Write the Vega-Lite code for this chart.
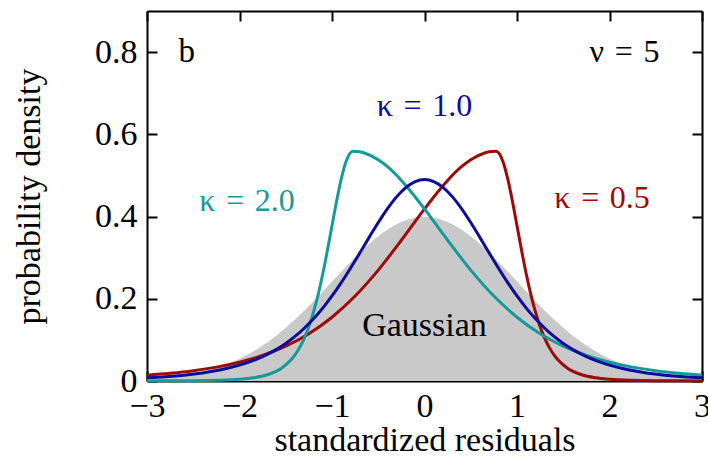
{
  "$schema": "https://vega.github.io/schema/vega-lite/v6.json",
  "width": 555,
  "height": 370,
  "autosize": {"type": "none"},
  "padding": {"left": 147, "top": 11, "right": 6, "bottom": 76},
  "background": "white",
  "config": {
    "view": {"stroke": null},
    "font": "Liberation Serif",
    "axis": {
      "grid": false,
      "domainColor": "black",
      "domainWidth": 2,
      "tickColor": "black",
      "tickWidth": 2,
      "tickSize": -10,
      "labelFont": "Liberation Serif",
      "labelFontSize": 34,
      "labelColor": "black",
      "titleFont": "Liberation Serif",
      "titleFontSize": 34,
      "titleFontWeight": "normal",
      "titleColor": "black"
    }
  },
  "datasets": {
    "gauss": [
      {"x": -3.0, "y": 0.0044}, {"x": -2.8, "y": 0.0079}, {"x": -2.6, "y": 0.0136}, {"x": -2.4, "y": 0.0224},
      {"x": -2.2, "y": 0.0355}, {"x": -2.0, "y": 0.054}, {"x": -1.8, "y": 0.079}, {"x": -1.6, "y": 0.1109},
      {"x": -1.4, "y": 0.1497}, {"x": -1.2, "y": 0.1942}, {"x": -1.0, "y": 0.242}, {"x": -0.8, "y": 0.2897},
      {"x": -0.6, "y": 0.3332}, {"x": -0.4, "y": 0.3683}, {"x": -0.2, "y": 0.391}, {"x": 0.0, "y": 0.3989},
      {"x": 0.2, "y": 0.391}, {"x": 0.4, "y": 0.3683}, {"x": 0.6, "y": 0.3332}, {"x": 0.8, "y": 0.2897},
      {"x": 1.0, "y": 0.242}, {"x": 1.2, "y": 0.1942}, {"x": 1.4, "y": 0.1497}, {"x": 1.6, "y": 0.1109},
      {"x": 1.8, "y": 0.079}, {"x": 2.0, "y": 0.054}, {"x": 2.2, "y": 0.0355}, {"x": 2.4, "y": 0.0224},
      {"x": 2.6, "y": 0.0136}, {"x": 2.8, "y": 0.0079}, {"x": 3.0, "y": 0.0044}
    ],
    "curves": [
      {"k": "0.5", "x": -3.0, "y": 0.01405}, {"k": "0.5", "x": -2.75, "y": 0.01868}, {"k": "0.5", "x": -2.5, "y": 0.02501},
      {"k": "0.5", "x": -2.25, "y": 0.03372}, {"k": "0.5", "x": -2.0, "y": 0.0457}, {"k": "0.5", "x": -1.75, "y": 0.0622},
      {"k": "0.5", "x": -1.5, "y": 0.0846}, {"k": "0.5", "x": -1.25, "y": 0.115}, {"k": "0.5", "x": -1.0, "y": 0.1551},
      {"k": "0.5", "x": -0.75, "y": 0.2066}, {"k": "0.5", "x": -0.5, "y": 0.2698}, {"k": "0.5", "x": -0.25, "y": 0.3424},
      {"k": "0.5", "x": 0.0, "y": 0.4185}, {"k": "0.5", "x": 0.1, "y": 0.4477}, {"k": "0.5", "x": 0.25, "y": 0.4879},
      {"k": "0.5", "x": 0.4, "y": 0.5212}, {"k": "0.5", "x": 0.5, "y": 0.5383}, {"k": "0.5", "x": 0.65, "y": 0.5547},
      {"k": "0.5", "x": 0.7, "y": 0.5575}, {"k": "0.5", "x": 0.773, "y": 0.559}, {"k": "0.5", "x": 0.85, "y": 0.5329},
      {"k": "0.5", "x": 0.9, "y": 0.4916}, {"k": "0.5", "x": 0.95, "y": 0.4377}, {"k": "0.5", "x": 1.0, "y": 0.3776},
      {"k": "0.5", "x": 1.05, "y": 0.3171}, {"k": "0.5", "x": 1.1, "y": 0.2604}, {"k": "0.5", "x": 1.15, "y": 0.2102},
      {"k": "0.5", "x": 1.2, "y": 0.1675}, {"k": "0.5", "x": 1.25, "y": 0.1322}, {"k": "0.5", "x": 1.3, "y": 0.1038},
      {"k": "0.5", "x": 1.35, "y": 0.0812}, {"k": "0.5", "x": 1.4, "y": 0.0634}, {"k": "0.5", "x": 1.45, "y": 0.0496},
      {"k": "0.5", "x": 1.55, "y": 0.0305}, {"k": "0.5", "x": 1.7, "y": 0.01514}, {"k": "0.5", "x": 1.85, "y": 0.00785},
      {"k": "0.5", "x": 2.0, "y": 0.00426}, {"k": "0.5", "x": 2.25, "y": 0.00169}, {"k": "0.5", "x": 2.5, "y": 0.00075},
      {"k": "0.5", "x": 3.0, "y": 0.00019},

      {"k": "2.0", "x": 3.0, "y": 0.01405}, {"k": "2.0", "x": 2.75, "y": 0.01868}, {"k": "2.0", "x": 2.5, "y": 0.02501},
      {"k": "2.0", "x": 2.25, "y": 0.03372}, {"k": "2.0", "x": 2.0, "y": 0.0457}, {"k": "2.0", "x": 1.75, "y": 0.0622},
      {"k": "2.0", "x": 1.5, "y": 0.0846}, {"k": "2.0", "x": 1.25, "y": 0.115}, {"k": "2.0", "x": 1.0, "y": 0.1551},
      {"k": "2.0", "x": 0.75, "y": 0.2066}, {"k": "2.0", "x": 0.5, "y": 0.2698}, {"k": "2.0", "x": 0.25, "y": 0.3424},
      {"k": "2.0", "x": 0.0, "y": 0.4185}, {"k": "2.0", "x": -0.1, "y": 0.4477}, {"k": "2.0", "x": -0.25, "y": 0.4879},
      {"k": "2.0", "x": -0.4, "y": 0.5212}, {"k": "2.0", "x": -0.5, "y": 0.5383}, {"k": "2.0", "x": -0.65, "y": 0.5547},
      {"k": "2.0", "x": -0.7, "y": 0.5575}, {"k": "2.0", "x": -0.773, "y": 0.559}, {"k": "2.0", "x": -0.85, "y": 0.5329},
      {"k": "2.0", "x": -0.9, "y": 0.4916}, {"k": "2.0", "x": -0.95, "y": 0.4377}, {"k": "2.0", "x": -1.0, "y": 0.3776},
      {"k": "2.0", "x": -1.05, "y": 0.3171}, {"k": "2.0", "x": -1.1, "y": 0.2604}, {"k": "2.0", "x": -1.15, "y": 0.2102},
      {"k": "2.0", "x": -1.2, "y": 0.1675}, {"k": "2.0", "x": -1.25, "y": 0.1322}, {"k": "2.0", "x": -1.3, "y": 0.1038},
      {"k": "2.0", "x": -1.35, "y": 0.0812}, {"k": "2.0", "x": -1.4, "y": 0.0634}, {"k": "2.0", "x": -1.45, "y": 0.0496},
      {"k": "2.0", "x": -1.55, "y": 0.0305}, {"k": "2.0", "x": -1.7, "y": 0.01514}, {"k": "2.0", "x": -1.85, "y": 0.00785},
      {"k": "2.0", "x": -2.0, "y": 0.00426}, {"k": "2.0", "x": -2.25, "y": 0.00169}, {"k": "2.0", "x": -2.5, "y": 0.00075},
      {"k": "2.0", "x": -3.0, "y": 0.00019},

      {"k": "1.0", "x": -3.0, "y": 0.00766}, {"k": "1.0", "x": -2.8, "y": 0.01039}, {"k": "1.0", "x": -2.6, "y": 0.01423},
      {"k": "1.0", "x": -2.4, "y": 0.01968}, {"k": "1.0", "x": -2.2, "y": 0.02746}, {"k": "1.0", "x": -2.0, "y": 0.03858},
      {"k": "1.0", "x": -1.9, "y": 0.04582}, {"k": "1.0", "x": -1.8, "y": 0.05446}, {"k": "1.0", "x": -1.7, "y": 0.06476},
      {"k": "1.0", "x": -1.6, "y": 0.07699}, {"k": "1.0", "x": -1.5, "y": 0.09145}, {"k": "1.0", "x": -1.4, "y": 0.1084},
      {"k": "1.0", "x": -1.3, "y": 0.1283}, {"k": "1.0", "x": -1.2, "y": 0.1512}, {"k": "1.0", "x": -1.1, "y": 0.1773},
      {"k": "1.0", "x": -1.0, "y": 0.2068}, {"k": "1.0", "x": -0.9, "y": 0.2393}, {"k": "1.0", "x": -0.8, "y": 0.2744},
      {"k": "1.0", "x": -0.7, "y": 0.3113}, {"k": "1.0", "x": -0.6, "y": 0.3488}, {"k": "1.0", "x": -0.5, "y": 0.3855},
      {"k": "1.0", "x": -0.4, "y": 0.4194}, {"k": "1.0", "x": -0.3, "y": 0.4485}, {"k": "1.0", "x": -0.2, "y": 0.471},
      {"k": "1.0", "x": -0.1, "y": 0.4852}, {"k": "1.0", "x": 0.0, "y": 0.4901}, {"k": "1.0", "x": 0.1, "y": 0.4852},
      {"k": "1.0", "x": 0.2, "y": 0.471}, {"k": "1.0", "x": 0.3, "y": 0.4485}, {"k": "1.0", "x": 0.4, "y": 0.4194},
      {"k": "1.0", "x": 0.5, "y": 0.3855}, {"k": "1.0", "x": 0.6, "y": 0.3488}, {"k": "1.0", "x": 0.7, "y": 0.3113},
      {"k": "1.0", "x": 0.8, "y": 0.2744}, {"k": "1.0", "x": 0.9, "y": 0.2393}, {"k": "1.0", "x": 1.0, "y": 0.2068},
      {"k": "1.0", "x": 1.1, "y": 0.1773}, {"k": "1.0", "x": 1.2, "y": 0.1512}, {"k": "1.0", "x": 1.3, "y": 0.1283},
      {"k": "1.0", "x": 1.4, "y": 0.1084}, {"k": "1.0", "x": 1.5, "y": 0.09145}, {"k": "1.0", "x": 1.6, "y": 0.07699},
      {"k": "1.0", "x": 1.7, "y": 0.06476}, {"k": "1.0", "x": 1.8, "y": 0.05446}, {"k": "1.0", "x": 1.9, "y": 0.04582},
      {"k": "1.0", "x": 2.0, "y": 0.03858}, {"k": "1.0", "x": 2.2, "y": 0.02746}, {"k": "1.0", "x": 2.4, "y": 0.01968},
      {"k": "1.0", "x": 2.6, "y": 0.01423}, {"k": "1.0", "x": 2.8, "y": 0.01039}, {"k": "1.0", "x": 3.0, "y": 0.00766}
    ]
  },
  "resolve": {"axis": {"x": "independent", "y": "independent"}},
  "layer": [
    {
      "data": {"name": "gauss"},
      "mark": {"type": "area", "color": "#c9c9c9", "interpolate": "monotone"},
      "encoding": {
        "x": {"field": "x", "type": "quantitative", "scale": {"domain": [-3, 3], "nice": false},
          "axis": {"orient": "bottom", "values": [-3, -2, -1, 0, 1, 2, 3], "format": "d", "labelPadding": 18, "title": "standardized residuals", "titlePadding": 0, "labelFlush": false, "labelOverlap": false}},
        "y": {"field": "y", "type": "quantitative", "scale": {"domain": [0, 0.9], "nice": false, "zero": true},
          "axis": {"orient": "left", "values": [0, 0.2, 0.4, 0.6, 0.8], "labelExpr": "datum.value == 0 ? '0' : format(datum.value, '.1f')", "labelPadding": 20, "title": "probability density", "titlePadding": 48, "labelFlush": false, "labelOverlap": false}}
      }
    },
    {
      "data": {"name": "gauss"},
      "mark": {"type": "line", "strokeOpacity": 0},
      "encoding": {
        "x": {"field": "x", "type": "quantitative",
          "axis": {"orient": "top", "values": [-3, -2, -1, 0, 1, 2, 3], "labels": false, "title": null}},
        "y": {"field": "y", "type": "quantitative",
          "axis": {"orient": "right", "values": [0, 0.2, 0.4, 0.6, 0.8], "labels": false, "title": null}}
      }
    },
    {
      "data": {"name": "curves"},
      "mark": {"type": "line", "strokeWidth": 3, "interpolate": "monotone"},
      "encoding": {
        "x": {"field": "x", "type": "quantitative", "axis": null},
        "y": {"field": "y", "type": "quantitative", "axis": null},
        "color": {"field": "k", "type": "nominal", "legend": null,
          "scale": {"domain": ["0.5", "1.0", "2.0"], "range": ["#9c0a0a", "#0c0c98", "#16999a"]}},
        "order": {"field": "x", "type": "quantitative"}
      }
    },
    {
      "data": {"values": [{}]},
      "mark": {"type": "text", "text": "b", "fontSize": 33, "align": "left", "baseline": "middle", "color": "black"},
      "encoding": {"x": {"datum": -2.66, "type": "quantitative", "axis": null}, "y": {"datum": 0.8, "type": "quantitative", "axis": null}}
    },
    {
      "data": {"values": [{}]},
      "mark": {"type": "text", "text": "ν\u2004=\u20045", "fontSize": 32, "align": "right", "baseline": "middle", "color": "black"},
      "encoding": {"x": {"datum": 2.54, "type": "quantitative", "axis": null}, "y": {"datum": 0.8, "type": "quantitative", "axis": null}}
    },
    {
      "data": {"values": [{}]},
      "mark": {"type": "text", "text": "κ\u2004=\u20041.0", "fontSize": 32, "align": "center", "baseline": "middle", "color": "#0c0c98"},
      "encoding": {"x": {"datum": 0.0, "type": "quantitative", "axis": null}, "y": {"datum": 0.669, "type": "quantitative", "axis": null}}
    },
    {
      "data": {"values": [{}]},
      "mark": {"type": "text", "text": "κ\u2004=\u20042.0", "fontSize": 32, "align": "center", "baseline": "middle", "color": "#16999a"},
      "encoding": {"x": {"datum": -1.92, "type": "quantitative", "axis": null}, "y": {"datum": 0.439, "type": "quantitative", "axis": null}}
    },
    {
      "data": {"values": [{}]},
      "mark": {"type": "text", "text": "κ\u2004=\u20040.5", "fontSize": 32, "align": "center", "baseline": "middle", "color": "#9c0a0a"},
      "encoding": {"x": {"datum": 1.92, "type": "quantitative", "axis": null}, "y": {"datum": 0.444, "type": "quantitative", "axis": null}}
    },
    {
      "data": {"values": [{}]},
      "mark": {"type": "text", "text": "Gaussian", "fontSize": 34, "align": "center", "baseline": "middle", "color": "black"},
      "encoding": {"x": {"datum": 0.0, "type": "quantitative", "axis": null}, "y": {"datum": 0.135, "type": "quantitative", "axis": null}}
    }
  ]
}
